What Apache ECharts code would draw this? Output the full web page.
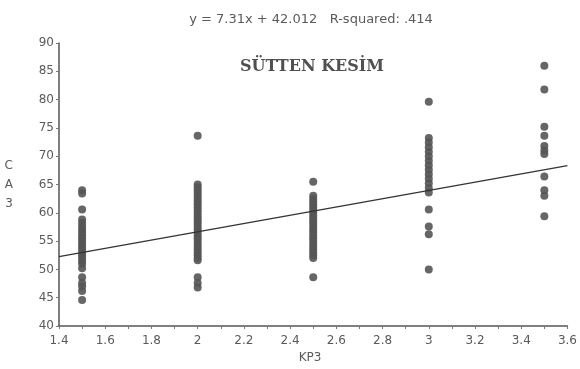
<!DOCTYPE html>
<html>
<head>
<meta charset="utf-8">
<script src="https://cdn.jsdelivr.net/npm/echarts@6/dist/echarts.min.js"></script>
<style>
html,body{margin:0;padding:0;background:#fff;}
#chart{width:580px;height:369px;}
</style>
</head>
<body>
<div id="chart"></div>
<script>
// Data
var xGroups = [1.5, 2.0, 2.5, 3.0, 3.5];
var ca3At15 = [64, 63.4, 60.6, 58.8, 58.2, 57.6, 57, 56.5, 56, 55.5, 55, 54.5, 54, 53.5, 53, 52.5, 52, 51.5, 51, 50.2, 48.6, 47.6, 47, 46.2, 44.6];
var ca3At20 = [73.6, 65, 64.5, 64, 63.5, 63, 62.5, 62, 61.5, 61, 60.5, 60, 59.5, 59, 58.5, 58, 57.5, 57, 56.5, 56, 55.5, 55, 54.5, 54, 53.5, 53, 52.5, 52, 51.6, 48.6, 47.6, 46.8];
var ca3At25 = [65.5, 63, 62.5, 62, 61.5, 61, 60.5, 60, 59.5, 59, 58.5, 58, 57.5, 57, 56.5, 56, 55.5, 55, 54.5, 54, 53.5, 53, 52.5, 52, 48.6];
var ca3At30 = [79.6, 73.2, 72.4, 71.6, 70.8, 70, 69.2, 68.4, 67.6, 66.8, 66, 65.2, 64.4, 63.6, 60.6, 57.6, 56.2, 50];
var ca3At35 = [86, 81.8, 75.2, 73.6, 71.8, 71, 70.4, 66.4, 64, 63, 59.4];
var fitSlope = 7.31;
var fitIntercept = 42.012;
var fitRange = [1.4, 3.6];
var xTicks = {min: 1.4, max: 3.6, interval: 0.2};
var yTicks = {min: 40, max: 90, interval: 5};
var titleText = 'y = 7.31x + 42.012   R-squared: .414';
var panelText = 'SÜTTEN KESİM';
var xName = 'KP3';
var yName = 'C\nA\n3';

var groups = [ca3At15, ca3At20, ca3At25, ca3At30, ca3At35];
var points = [];
groups.forEach(function (vals, i) {
  vals.forEach(function (v) { points.push([xGroups[i], v]); });
});
var fitLine = fitRange.map(function (x) { return [x, fitSlope * x + fitIntercept]; });

var chart = echarts.init(document.getElementById('chart'), null, {renderer: 'canvas'});
var labelStyle = {color: '#5a5a5a', fontFamily: 'DejaVu Sans', fontSize: 12};
chart.setOption({
  backgroundColor: '#ffffff',
  animation: false,
  grid: {left: 59, right: 12, top: 43, bottom: 43},
  xAxis: {
    type: 'value', min: xTicks.min, max: xTicks.max, interval: xTicks.interval,
    axisLine: {lineStyle: {color: '#555', width: 1.5}},
    axisTick: {show: true, length: 3, inside: false, lineStyle: {color: '#777'}},
    minorTick: {show: true, splitNumber: 2, length: 3, lineStyle: {color: '#777'}},
    splitLine: {show: false},
    axisLabel: Object.assign({margin: 9, formatter: function (v) { return String(+v.toFixed(1)); }}, labelStyle)
  },
  yAxis: {
    type: 'value', min: yTicks.min, max: yTicks.max, interval: yTicks.interval,
    axisLine: {show: true, lineStyle: {color: '#555', width: 1.5}},
    axisTick: {show: true, length: 3, lineStyle: {color: '#777'}},
    splitLine: {show: false},
    axisLabel: Object.assign({margin: 5}, labelStyle),
    name: yName, nameLocation: 'middle', nameGap: 46, nameRotate: 0,
    nameTextStyle: {color: '#5a5a5a', fontFamily: 'DejaVu Sans', fontSize: 12, lineHeight: 19}
  },
  graphic: [
    {type: 'text', style: {text: titleText, x: 311, y: 20, align: 'center', verticalAlign: 'middle', fill: '#5a5a5a', font: '13px "DejaVu Sans"'}},
    {type: 'text', style: {text: panelText, x: 312, y: 67, align: 'center', verticalAlign: 'middle', fill: '#505050', font: 'bold 16px "DejaVu Serif"'}},
    {type: 'text', style: {text: xName, x: 310, y: 358, align: 'center', verticalAlign: 'middle', fill: '#5a5a5a', font: '12px "DejaVu Sans"'}}
  ],
  series: [
    {
      type: 'scatter', data: points, symbolSize: 8,
      itemStyle: {color: '#555', opacity: 0.9}
    },
    {
      type: 'line', data: fitLine, symbol: 'none',
      lineStyle: {color: '#333', width: 1.3}
    }
  ]
});
</script>
</body>
</html>
